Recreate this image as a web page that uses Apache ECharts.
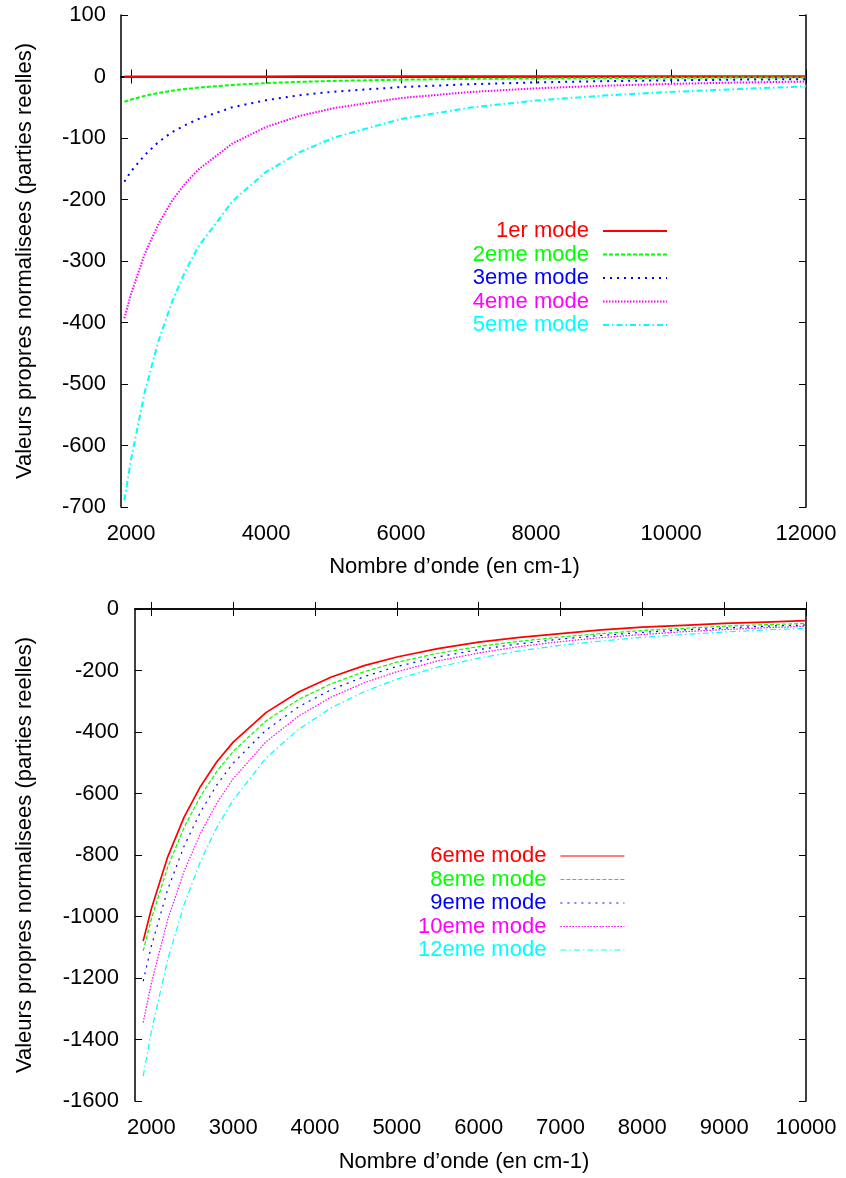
<!DOCTYPE html>
<html>
<head>
<meta charset="utf-8">
<script src="https://cdn.jsdelivr.net/npm/echarts@6/dist/echarts.min.js"></script>
<style>
    html, body { margin: 0; padding: 0; background: #fff; }
    #chart { width: 846px; height: 1178px; }
</style>
</head>
<body>
<div id="chart"></div>
<script>
// haut : modes 1 a 5
const topX = [1900, 2000, 2200, 2400, 2600, 2800, 3000, 3500, 4000, 4500, 5000, 6000, 7000, 8000, 9000, 10000, 11000, 12000];
const mode1 = [-0.6, -0.6, -0.5, -0.5, -0.4, -0.4, -0.4, -0.3, -0.3, -0.2, -0.2, -0.2, -0.1, -0.1, -0.1, -0.1, -0.1, -0.1];
const mode2 = [-41, -37.4, -31.5, -26.9, -23.3, -20.4, -18, -13.7, -10.7, -8.7, -7.2, -5.2, -3.9, -3.1, -2.5, -2.1, -1.7, -1.5];
const mode3 = [-171, -154, -128, -107, -91, -79, -69, -50, -38.6, -30.5, -24.7, -17.2, -12.6, -9.6, -7.6, -6.2, -5.1, -4.3];
const mode4 = [-393, -353, -289, -241, -203, -174, -151, -109, -82, -64, -51.5, -35, -25.4, -19.2, -15, -12, -9.8, -8.2];
const mode5 = [-689, -622, -514, -432, -368, -317, -276, -203, -155, -123, -99.5, -69, -51, -39, -31, -25, -20.5, -16];
const topNames = ['1er mode', '2eme mode', '3eme mode', '4eme mode', '5eme mode'];
const topXTicks = [2000, 4000, 6000, 8000, 10000, 12000];

// bas : modes 6 a 12
const botX = [1900, 2000, 2200, 2400, 2600, 2800, 3000, 3400, 3800, 4200, 4600, 5000, 5500, 6000, 6500, 7000, 7500, 8000, 8500, 9000, 9500, 10000];
const mode6 = [-1080, -975, -806, -677, -577, -497, -433, -337, -270, -221, -184, -156, -129, -108, -92, -80, -68, -59, -53, -47, -42.5, -38];
const mode8 = [-1112, -1008, -839, -710, -609, -528, -463, -364, -294, -243, -204, -173, -144, -122, -105, -91, -80, -70, -63, -56, -51, -47];
const mode9 = [-1210, -1096, -912, -771, -660, -572, -501, -394, -318, -262, -220, -187, -156, -132, -113, -98, -86, -76, -68, -62, -56, -52];
const mode10 = [-1345, -1217, -1010, -853, -730, -631, -552, -432, -348, -286, -240, -204, -169, -143, -122, -106, -93, -83, -74, -67, -61, -56];
const mode12 = [-1519, -1374, -1140, -961, -821, -710, -621, -485, -391, -321, -269, -228, -189, -160, -136, -118, -104, -92, -83, -75, -68, -63];
const botNames = ['6eme mode', '8eme mode', '9eme mode', '10eme mode', '12eme mode'];
const botXTicks = [2000, 3000, 4000, 5000, 6000, 7000, 8000, 9000, 10000];

const colors = ['#ff0000', '#00ff00', '#0000ff', '#ff00ff', '#00ffff'];
const dashes = ['solid', [4, 2], [2, 5], [1.5, 1.5], [6, 3, 1.5, 3]];

const font = '"Liberation Sans", Arial, sans-serif';
const yName = 'Valeurs propres normalisees (parties reelles)';
const xName = 'Nombre d\u2019onde (en cm-1)';

const pairs = (xs, ys) => xs.map((x, i) => [x, ys[i]]);
const plain = (v) => String(v); // pas de separateur de milliers

const tick = { show: true, inside: true, length: 7, lineStyle: { color: '#000', width: 1 } };
const line = { show: true, lineStyle: { color: '#000', width: 1.5 } };
const label = { color: '#000', fontSize: 22, fontFamily: font, formatter: plain };

const makeSeries = (names, xs, ys, xIdx, yIdx, width) =>
    names.map((name, i) => ({
        name: name,
        type: 'line',
        xAxisIndex: xIdx,
        yAxisIndex: yIdx,
        symbol: 'none',
        showSymbol: false,
        data: pairs(xs, ys[i]),
        lineStyle: { color: colors[i], width: i === 0 ? width + 0.5 : width, type: dashes[i] },
        itemStyle: { color: colors[i] }
    }));

const makeLegend = (names, right, top, lineWidth) => ({
    data: names.map((n, i) => ({ name: n, textStyle: { color: colors[i] } })),
    orient: 'vertical',
    align: 'right',
    right: right,
    top: top,
    itemWidth: 64,
    itemHeight: 14,
    itemGap: 1.5,
    selectedMode: false,
    textStyle: { fontSize: 22, fontFamily: font, lineHeight: 22, padding: [0, 9, 0, 0] },
    itemStyle: { opacity: 0 },
    lineStyle: { width: lineWidth }
});

const options = {
    animation: false,
    backgroundColor: '#fff',
    grid: [
        { left: 121, top: 15, width: 685, height: 492 },
        { left: 135, top: 609, width: 671, height: 492 }
    ],
    legend: [
        makeLegend(topNames, 173, 215, 2),
        makeLegend(botNames, 216, 840, 1.2)
    ],
    xAxis: [
        {
            type: 'value', gridIndex: 0, min: 1850, max: 12000,
            name: xName, nameLocation: 'middle', nameGap: 49,
            nameTextStyle: { color: '#000', fontSize: 22, fontFamily: font, padding: [0, 18, 0, 0] },
            axisLine: line,
            axisTick: { ...tick, customValues: topXTicks },
            axisLabel: { ...label, margin: 16, customValues: topXTicks },
            splitLine: { show: false }
        },
        {
            type: 'value', gridIndex: 0, min: 1850, max: 12000, position: 'top',
            axisLine: line,
            axisTick: { ...tick, customValues: topXTicks },
            axisLabel: { show: false },
            splitLine: { show: false }
        },
        {
            type: 'value', gridIndex: 1, min: 1800, max: 10000,
            name: xName, nameLocation: 'middle', nameGap: 50,
            nameTextStyle: { color: '#000', fontSize: 22, fontFamily: font, padding: [0, 13, 0, 0] },
            axisLine: line,
            axisTick: { ...tick, customValues: botXTicks },
            axisLabel: { ...label, margin: 16, customValues: botXTicks },
            splitLine: { show: false }
        },
        {
            type: 'value', gridIndex: 1, min: 1800, max: 10000, position: 'top',
            axisLine: line,
            axisTick: { ...tick, customValues: botXTicks },
            axisLabel: { show: false },
            splitLine: { show: false }
        }
    ],
    yAxis: [
        {
            type: 'value', gridIndex: 0, min: -700, max: 100, interval: 100,
            name: yName, nameLocation: 'middle', nameGap: 85,
            nameTextStyle: { color: '#000', fontSize: 22, fontFamily: font },
            axisLine: line, axisTick: tick,
            axisLabel: { ...label, margin: 15 },
            splitLine: { show: false }
        },
        {
            type: 'value', gridIndex: 0, min: -700, max: 100, interval: 100, position: 'right',
            axisLine: line, axisTick: tick,
            axisLabel: { show: false },
            splitLine: { show: false }
        },
        {
            type: 'value', gridIndex: 1, min: -1600, max: 0, interval: 200,
            name: yName, nameLocation: 'middle', nameGap: 99,
            nameTextStyle: { color: '#000', fontSize: 22, fontFamily: font },
            axisLine: line, axisTick: tick,
            axisLabel: { ...label, margin: 16 },
            splitLine: { show: false }
        },
        {
            type: 'value', gridIndex: 1, min: -1600, max: 0, interval: 200, position: 'right',
            axisLine: line, axisTick: tick,
            axisLabel: { show: false },
            splitLine: { show: false }
        }
    ],
    series: [
        ...makeSeries(topNames, topX, [mode1, mode2, mode3, mode4, mode5], 0, 0, 2),
        ...makeSeries(botNames, botX, [mode6, mode8, mode9, mode10, mode12], 2, 2, 1.2)
    ]
};

const chartLine = echarts.init(document.getElementById('chart'));
chartLine.setOption(options);
</script>
</body>
</html>
